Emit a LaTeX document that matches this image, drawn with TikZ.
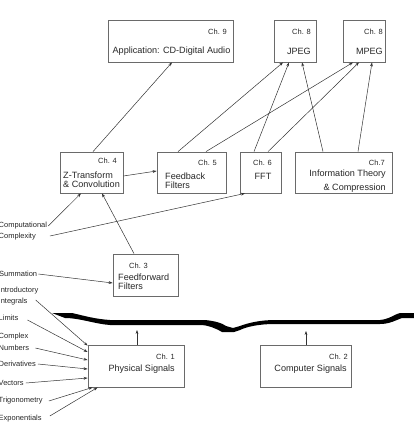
\documentclass[tikz,border=0pt]{standalone}
\usepackage{fontspec}
\setmainfont{Liberation Sans}
\usetikzlibrary{arrows.meta}
\definecolor{boxgray}{HTML}{6A6A6A}
\definecolor{txtgray}{HTML}{262626}
\definecolor{arrgray}{HTML}{333333}
\tikzset{
  box/.style={draw=boxgray, line width=0.8pt, rectangle, inner sep=0pt},
  chno/.style={inner sep=0pt, text=txtgray, font=\fontsize{7.5}{9}\selectfont},
  ttl/.style={inner sep=0pt, text=txtgray, font=\fontsize{9.1}{9.3}\selectfont},
  lbl/.style={inner sep=0pt, anchor=west, text=txtgray, font=\fontsize{7.5}{9}\selectfont},
  arr/.style={draw=arrgray, line width=0.5pt, -{Stealth[length=4pt,width=2.8pt]}}
}
\begin{document}
\begin{tikzpicture}[x=1pt,y=-1pt]
  \useasboundingbox (0,0) rectangle (414,426);
  % boxes
  \node[box, minimum width=125pt, minimum height=42pt] (ch9) at (170.5,41) {};
  \node[box, minimum width=42pt, minimum height=42pt] (jpeg) at (295,41) {};
  \node[box, minimum width=42pt, minimum height=42pt] (mpeg) at (364,41) {};
  \node[box, minimum width=63pt, minimum height=41pt] (ch4) at (91.5,172.5) {};
  \node[box, minimum width=69pt, minimum height=41pt] (ch5) at (191.5,172.5) {};
  \node[box, minimum width=41pt, minimum height=41pt] (ch6) at (260.5,172.5) {};
  \node[box, minimum width=97pt, minimum height=41pt] (ch7) at (343.5,172.5) {};
  \node[box, minimum width=65pt, minimum height=42pt] (ch3) at (145.5,275) {};
  \node[box, minimum width=96pt, minimum height=42pt] (ch1) at (136,366) {};
  \node[box, minimum width=91pt, minimum height=42pt] (ch2) at (305.5,366) {};
  % texts in boxes
  \node[chno, anchor=east] at (227,32) {Ch. 9};
  \node[ttl] at (171.5,51) {Application: CD-Digital Audio};
  \node[chno, anchor=east] at (311,32) {Ch. 8};
  \node[ttl, anchor=east] at (311,51) {JPEG};
  \node[chno, anchor=east] at (383,32) {Ch. 8};
  \node[ttl, anchor=east] at (383,51) {MPEG};
  \node[chno, anchor=east] at (117,161) {Ch. 4};
  \node[ttl, anchor=west, align=left] at (63,179.5) {Z-Transform\\\& Convolution};
  \node[chno, anchor=east] at (217,163) {Ch. 5};
  \node[ttl, anchor=west, align=left] at (165,180.5) {Feedback\\Filters};
  \node[chno, anchor=east] at (272,163) {Ch. 6};
  \node[ttl] at (263,176) {FFT};
  \node[chno, anchor=east] at (385,163) {Ch.7};
  \node[ttl, anchor=east] at (386,174) {Information Theory};
  \node[ttl, anchor=east] at (386,187.7) {\& Compression};
  \node[chno, anchor=west] at (129,266) {Ch. 3};
  \node[ttl, anchor=west, align=left] at (118,282) {Feedforward\\Filters};
  \node[chno, anchor=east] at (175,357) {Ch. 1};
  \node[ttl, anchor=east] at (175,369) {Physical Signals};
  \node[chno, anchor=east] at (348,357) {Ch. 2};
  \node[ttl, anchor=east] at (347,369) {Computer Signals};
  % side labels
  \node[lbl] (comp) at (-1.5,226) {Computational};
  \node[lbl] (cplx) at (-1.5,237) {Complexity};
  \node[lbl] (summ) at (-1,274) {Summation};
  \node[lbl] (intro) at (-1.5,291) {Introductory};
  \node[lbl] (intg) at (-1.5,302) {Integrals};
  \node[lbl] (lim) at (-1.5,318) {Limits};
  \node[lbl] (cmplx) at (-1.5,337) {Complex};
  \node[lbl] (numb) at (-1.5,348) {Numbers};
  \node[lbl] (deriv) at (-1.5,364) {Derivatives};
  \node[lbl] (vect) at (-1.5,383) {Vectors};
  \node[lbl] (trig) at (-1.5,401) {Trigonometry};
  \node[lbl] (expo) at (-1.5,419) {Exponentials};
  % brace
  \fill[black] (52,313) -- (72,313) .. controls (85,316) and (95,319) .. (110,320)
    -- (205,320) .. controls (215,321) and (222,323) .. (226,326) -- (233,328)
    -- (240,326) .. controls (248,323) and (260,320) .. (275,320)
    -- (380,320) .. controls (390,319) and (395,314) .. (400,313) -- (414,313)
    -- (414,318) -- (402,318) .. controls (396,320) and (390,324) .. (380,324)
    -- (275,324) .. controls (258,324) and (246,327) .. (240,330) -- (234,332)
    -- (222,332) .. controls (215,328) and (208,325) .. (200,325)
    -- (110,325) .. controls (95,324) and (80,318) .. (65,318) -- cycle;
  \coordinate (brL) at (137,330);
  \coordinate (brR) at (306,331);
  % connectors
  \draw[arr] ([xshift=1.5pt]ch4.north) -- ([xshift=1.5pt]ch9.south);
  \draw[arr] ([xshift=-13.5pt]ch5.north) -- ([xshift=-12pt]jpeg.south);
  \draw[arr] ([xshift=14.5pt]ch5.north) -- ([xshift=-11pt]mpeg.south);
  \draw[arr] ([xshift=-6.5pt]ch6.north) -- ([xshift=-6pt]jpeg.south);
  \draw[arr] ([xshift=7.5pt]ch6.north) -- ([xshift=-5pt]mpeg.south);
  \draw[arr] ([xshift=-20.5pt]ch7.north) -- ([xshift=7pt]jpeg.south);
  \draw[arr] ([xshift=14.5pt]ch7.north) -- ([xshift=8pt]mpeg.south);
  \draw[arr] ([yshift=-3.5pt]ch4.east) -- ([yshift=1.5pt]ch5.west);
  \draw[arr] ([xshift=1pt]comp.east) -- ([xshift=-10.5pt]ch4.south);
  \draw[arr] ([xshift=14pt,yshift=1pt]cplx.east) -- ([xshift=-15.5pt]ch6.south);
  \draw[arr] ([xshift=-11.5pt]ch3.north) -- ([xshift=10.5pt]ch4.south);
  \draw[arr] ([xshift=1pt]summ.east) -- ([yshift=-8pt]ch3.west);
  \draw[arr] ([xshift=8pt,yshift=2pt]intg.east) -- ([yshift=-1pt]ch1.north west);
  \draw[arr] ([xshift=9pt,yshift=-2pt]lim.east) -- ([yshift=14pt]ch1.west);
  \draw[arr] ([xshift=6pt]numb.east) -- ([yshift=6pt]ch1.west);
  \draw[arr] ([xshift=2pt]deriv.east) -- ([yshift=-3pt]ch1.west);
  \draw[arr] ([xshift=2pt]vect.east) -- ([yshift=-12pt]ch1.west);
  \draw[arr] ([xshift=6pt]trig.east) -- ([xshift=5pt]ch1.south west);
  \draw[arr] ([xshift=8pt,yshift=3pt]expo.east) -- ([xshift=10pt]ch1.south west);
  \draw[arr] ([xshift=1pt]ch1.north) -- (brL);
  \draw[arr] ([xshift=0.5pt]ch2.north) -- (brR);
\end{tikzpicture}
\end{document}
